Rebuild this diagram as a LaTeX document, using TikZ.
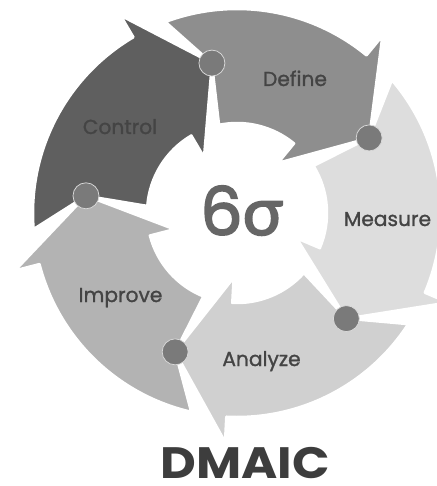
\documentclass[tikz,border=0pt]{standalone}
\usepackage{fontspec}
\setmainfont{Poppins}
\newfontfamily\labelfont{Poppins}[FakeBold=1.2]
\newfontfamily\centerfont{Poppins}[FakeBold=2.5]
\newfontfamily\greekfont{Lato}[FakeBold=2.5]
\newfontfamily\titlefont{Poppins}[FakeStretch=1.12]
\definecolor{definegray}{HTML}{8E8E8E}
\definecolor{measuregray}{HTML}{DDDDDD}
\definecolor{analyzegray}{HTML}{D0D0D0}
\definecolor{improvegray}{HTML}{B3B3B3}
\definecolor{controlgray}{HTML}{5F5F5F}
\definecolor{dotgray}{HTML}{7A7A7A}
\definecolor{labelgray}{HTML}{444444}
\begin{document}
\begin{tikzpicture}[x=0.2mm,y=0.2mm,
    cyclearrow/.style={draw=white,line width=0.5mm,line join=round},
    stagedot/.style={circle,fill=dotgray,draw=white!85!black,line width=0.15mm,minimum size=5.2mm,inner sep=0pt},
    stagelabel/.style={anchor=base,text=labelgray,font=\labelfont\fontsize{11.5}{12}\selectfont}]
      \clip (-237,-273) rectangle (200,213);
      \foreach \tailang/\tipang/\col in {99.5/29.6/definegray,29.6/-44/measuregray,-44/-114/analyzegray,-114/-186.5/improvegray,-186.5/-260.5/controlgray}
        \filldraw[cyclearrow,fill=\col] (\tailang:152) -- ({\tailang+11}:204)
          arc[start angle={\tailang+11},end angle={\tipang+21},radius=204] -- ({\tipang+21}:229)
          -- (\tipang:152) -- ({\tipang+21}:65) -- ({\tipang+21}:90)
          arc[start angle={\tipang+21},end angle={\tailang+2},radius=90] -- cycle;
      \foreach \tipang/\name in {29.6/dm,-44/ma,-114/ai,-186.5/ic,99.5/cd}
        \node[stagedot] (\name) at (\tipang:152) {};
      \node[stagelabel] (define) at (58,127) {Define};
      \node[stagelabel] (measure) at (150.5,-13) {Measure};
      \node[stagelabel] (analyze) at (24.5,-153) {Analyze};
      \node[stagelabel] (improve) at (-116.5,-89) {Improve};
      \node[stagelabel] (control) at (-117,79) {Control};
      \node[anchor=base,text=black!60,font=\centerfont\fontsize{38}{38}\selectfont] (sigma) at (4.5,-22) {6{\greekfont σ}};
      \node[anchor=base,inner sep=0pt,text=black!76,font=\titlefont\fontsize{25}{25}\selectfont\bfseries] (dmaic) at (8,-265) {DMAIC};
    \end{tikzpicture}
\end{document}
